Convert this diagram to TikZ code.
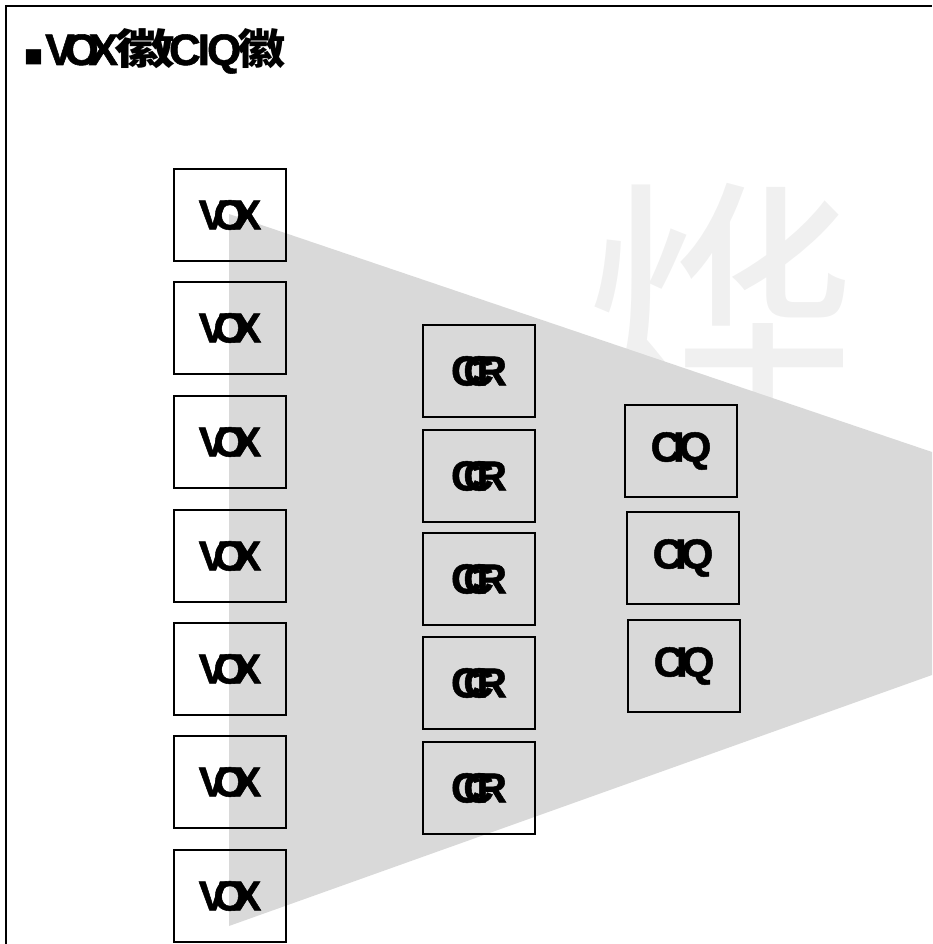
\documentclass[tikz,border=0pt]{standalone}
\usepackage{fontspec}
\setmainfont{Liberation Sans}
\newfontfamily\lblfont[FakeBold=1.2]{Liberation Sans Bold}
\newfontfamily\cjk{Noto Sans CJK SC}
\newfontfamily\cjkwide[FakeStretch=1.45]{Noto Sans CJK SC}
\newfontfamily\cjkmid[FakeStretch=1.15]{Noto Sans CJK SC}
\definecolor{fanfill}{HTML}{D9D9D9}
\definecolor{bigchar}{HTML}{F0F0F0}
\newcommand\voxlbl{V\kern-13pt O\kern-13pt X}
\newcommand\ccrlbl{C\kern-18pt C\kern-17pt R}
\newcommand\ciqlbl{C\kern-8pt I\kern-6pt Q}
\tikzset{
  x=1pt,y=-1pt,
  cell/.style={draw=black,line width=1.3pt,minimum width=112pt,minimum height=92pt,inner sep=0pt,
    font=\fontsize{42}{42}\lblfont},
}
\begin{document}
\begin{tikzpicture}
\useasboundingbox (0,0) rectangle (932,944);
% big background character
\node[text=bigchar,font=\fontsize{275}{275}\cjk,inner sep=0pt] (bg) at (720,310) {烨};
% fan
\fill[fanfill] (229,214) -- (932,452) -- (932,675) -- (229,926) -- cycle;
% frame
\draw[line width=2pt] (6,944) -- (6,6) -- (932,6);
% title
\node[anchor=base west,inner sep=0pt,font=\fontsize{44}{44}\lblfont] (title) at (24,65)
  {{\fontsize{19}{19}\cjk■}\kern2pt V\kern-10pt O\kern-10pt X\kern-4pt{\fontsize{42}{42}\cjkwide\bfseries 徽}\kern-6pt C\kern-3pt I\kern-3pt Q\kern-4pt{\fontsize{42}{42}\cjkmid\bfseries 徽}};
% VOX column
\foreach \i/\y in {1/215,2/328,3/442,4/556,5/669,6/782,7/896}{
  \node[cell] (vox\i) at (230,\y) {\voxlbl};
}
% CCR column
\foreach \i/\y in {1/371,2/476,3/579,4/683,5/788}{
  \node[cell] (ccr\i) at (479,\y) {\ccrlbl};
}
% CIQ column
\node[cell] (ciq1) at (681,451) {\ciqlbl};
\node[cell] (ciq2) at (683,558) {\ciqlbl};
\node[cell] (ciq3) at (684,666) {\ciqlbl};
\end{tikzpicture}
\end{document}
